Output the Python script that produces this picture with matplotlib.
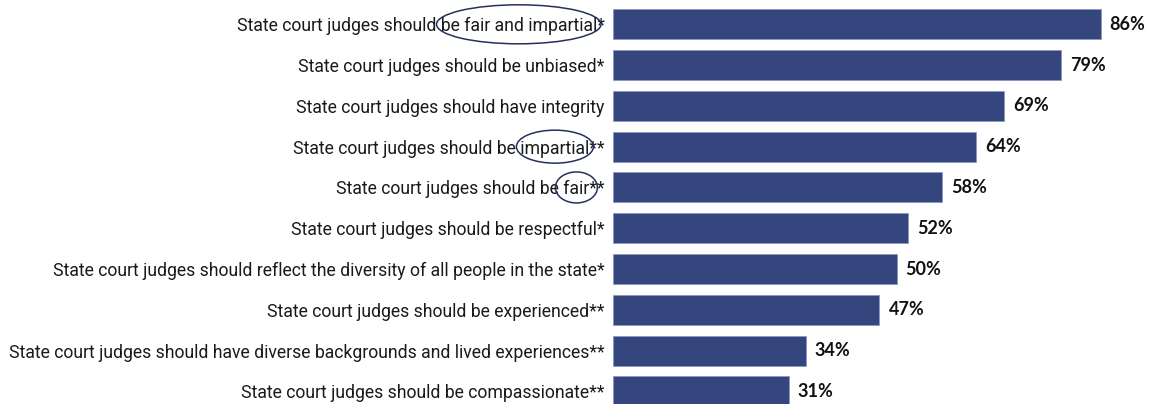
import numpy as np
import matplotlib.pyplot as plt
from matplotlib.patches import Ellipse
from matplotlib.transforms import IdentityTransform

labels = [
    "State court judges should be fair and impartial*",
    "State court judges should be unbiased*",
    "State court judges should have integrity",
    "State court judges should be impartial**",
    "State court judges should be fair**",
    "State court judges should be respectful*",
    "State court judges should reflect the diversity of all people in the state*",
    "State court judges should be experienced**",
    "State court judges should have diverse backgrounds and lived experiences**",
    "State court judges should be compassionate**",
]
values = [86, 79, 69, 64, 58, 52, 50, 47, 34, 31]

# words circled on the labels: (row, word, extra width px, ellipse height px)
circled = [(0, "be fair and impartial", 8, 39),
           (3, "impartial", 8, 33),
           (4, "fair", 16, 31)]

bar_color = "#35467f"
W, H = 1151, 404

fig = plt.figure(figsize=(W / 100, H / 100), dpi=100)
left = 613 / W
ax = fig.add_axes([left, 0, 1 - left, 1])

y = np.arange(len(values))
ax.barh(y, values, height=0.735, color=bar_color,
        edgecolor="#8e98c0", linewidth=0.6)
ax.set_xlim(0, (W - 613) / 5.67)
ax.set_ylim(9.31, -0.596)
ax.set_yticks(y, labels, fontsize=12.7, family="Roboto", color="#1a1a1a")
ax.tick_params(length=0, pad=6)
ax.set_xticks([])
for s in ax.spines.values():
    s.set_visible(False)

for yi, v in zip(y, values):
    ax.text(v + 1.6, yi, f"{v}%", va="center", ha="left", fontsize=13,
            fontweight="bold", family="Lato", color="#111111")

# ellipses around the highlighted words
fig.canvas.draw()
renderer = fig.canvas.get_renderer()
ticklabels = ax.get_yticklabels()


def text_width(s, ref):
    t = fig.text(0, 0, s, fontproperties=ref.get_fontproperties())
    w = t.get_window_extent(renderer).width
    t.remove()
    return w


for row, word, pad, eh in circled:
    tl = ticklabels[row]
    bb = tl.get_window_extent(renderer)
    txt = tl.get_text()
    start = bb.x0 + text_width(txt[:txt.index(word)], tl)
    end = start + text_width(word, tl)
    cy = ax.transData.transform((0, row))[1]
    e = Ellipse(((start + end) / 2, cy), (end - start) + pad, eh,
                transform=IdentityTransform(), fill=False,
                edgecolor="#26305f", linewidth=1.1, clip_on=False)
    fig.add_artist(e)

fig.savefig("out.png", dpi=100)
